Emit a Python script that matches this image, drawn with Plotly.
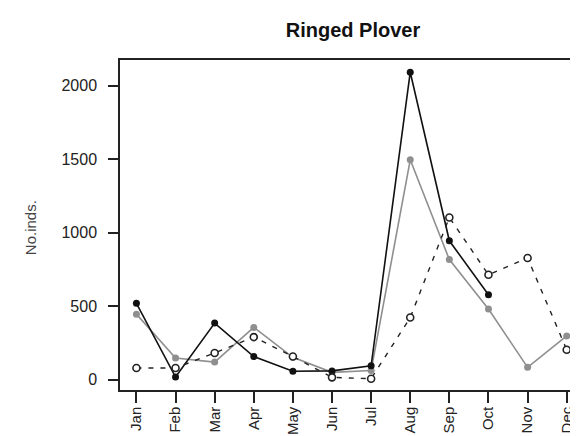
import plotly.graph_objects as go

months = ["Jan", "Feb", "Mar", "Apr", "May", "Jun", "Jul", "Aug", "Sep", "Oct", "Nov", "Dec"]
series_black = [520, 18, 385, 158, 58, 60, 95, 2092, 945, 578, None, None]
series_grey = [446, 148, 120, 356, 152, 50, 62, 1496, 817, 481, 84, 298]
series_open = [80, 80, 182, 290, 158, 16, 7, 423, 1104, 714, 828, 204]
y_ticks = [0, 500, 1000, 1500, 2000]

FONT = "Liberation Sans, Arial, Helvetica, sans-serif"

fig = go.Figure()
fig.add_trace(go.Scatter(
    x=months, y=series_grey, mode="lines+markers",
    line=dict(color="#8f8f8f", width=1.6),
    marker=dict(color="#8f8f8f", size=7, line=dict(width=0)),
    showlegend=False))
fig.add_trace(go.Scatter(
    x=months, y=series_black, mode="lines+markers",
    line=dict(color="#111111", width=1.6),
    marker=dict(color="#111111", size=7, line=dict(width=0)),
    showlegend=False))
fig.add_trace(go.Scatter(
    x=months, y=series_open, mode="lines+markers",
    line=dict(color="#222222", width=1.4, dash="5px,7px"),
    marker=dict(color="white", size=7, line=dict(color="#222222", width=1.6)),
    showlegend=False))

fig.update_layout(
    width=578, height=436,
    margin=dict(l=112, r=6, t=52, b=54),
    paper_bgcolor="white", plot_bgcolor="white",
    font=dict(family=FONT, color="#222222", size=16),
    title=dict(text="<b>Ringed Plover</b>", x=345/578, xref="container", xanchor="center",
               y=1-22/436, yref="container", yanchor="middle",
               font=dict(family=FONT, size=20, color="#111111")),
    xaxis=dict(
        type="category", range=[-0.42, 11.34], automargin=False,
        showline=True, linecolor="#222222", linewidth=1.5, mirror=True,
        ticks="outside", ticklen=11, tickwidth=1.5, tickcolor="#222222",
        tickangle=-90, showgrid=False, zeroline=False,
        tickfont=dict(size=15, color="#222222"), ticklabelstandoff=-2),
    yaxis=dict(
        range=[-70, 2175], tickvals=y_ticks, ticktext=[str(v) for v in y_ticks],
        automargin=False,
        showline=True, linecolor="#222222", linewidth=1.5, mirror=True,
        ticks="outside", ticklen=10, tickwidth=1.5, tickcolor="#222222",
        showgrid=False, zeroline=False,
        tickfont=dict(size=16, color="#222222"), ticklabelstandoff=8),
    annotations=[dict(
        text="No.inds.", textangle=-90, showarrow=False,
        xref="paper", yref="paper", x=(22.7-112)/460, y=(382-219.5)/330,
        xanchor="center", yanchor="middle",
        font=dict(family=FONT, size=15, color="#444444"))],
)

fig.write_html("out.html")
